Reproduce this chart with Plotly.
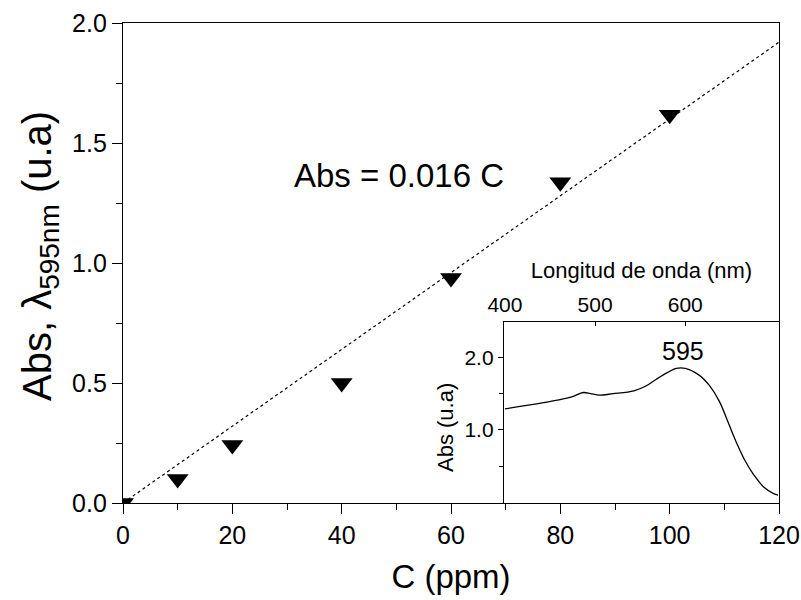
import plotly.graph_objects as go

# Main calibration data
conc_ppm = [0, 10, 20, 40, 60, 80, 100]
abs_595 = [0.0, 0.10, 0.242, 0.50, 0.937, 1.336, 1.618]

# Linear fit Abs = 0.016 C
fit_slope = 0.016
fit_c = [0, 120]

# Inset spectrum
wavelength_nm = [400, 415, 435, 460, 475, 487, 495, 505, 520, 543, 557, 568, 580,
                 590, 600, 615, 627, 638, 648, 657, 667, 676, 687, 698, 703]
spectrum_abs = [1.29, 1.32, 1.36, 1.415, 1.46, 1.516, 1.50, 1.48, 1.50, 1.54, 1.61,
                1.70, 1.79, 1.85, 1.85, 1.76, 1.61, 1.39, 1.09, 0.82, 0.56, 0.38,
                0.21, 0.12, 0.10]

FONT = "Liberation Sans, Arial, sans-serif"

# plot area in pixels
L, R, T, B = 123, 22, 23, 97
PW, PH = 801 - L - R, 600 - T - B


def px_x(px):
    return (px - L) / PW


def px_y(py):
    return (600 - B - py) / PH


fig = go.Figure()

fig.add_trace(go.Scatter(
    x=fit_c, y=[fit_slope * c for c in fit_c], mode="lines",
    line=dict(color="black", width=1.2, dash="3px,3px"),
    xaxis="x", yaxis="y", showlegend=False, hoverinfo="skip"))

fig.add_trace(go.Scatter(
    x=conc_ppm, y=abs_595, mode="markers",
    marker=dict(symbol="triangle-down", size=19, color="black"),
    xaxis="x", yaxis="y", showlegend=False))

fig.add_trace(go.Scatter(
    x=wavelength_nm, y=spectrum_abs, mode="lines", line_shape="spline",
    line=dict(color="black", width=1.3),
    xaxis="x2", yaxis="y2", showlegend=False))

inset_left = px_x(504)
inset_top = px_y(322)

fig.update_layout(
    width=801, height=600,
    margin=dict(l=L, r=R, t=T, b=B, autoexpand=False),
    paper_bgcolor="white", plot_bgcolor="white",
    font=dict(family=FONT, color="black"),
    xaxis=dict(
        range=[0, 120], domain=[0, 1], anchor="y", automargin=False,
        tickvals=[0, 20, 40, 60, 80, 100, 120],
        ticks="outside", ticklen=10, tickwidth=1.2, tickcolor="black",
        minor=dict(ticks="outside", ticklen=6, dtick=10, tickwidth=1.2, tickcolor="black"),
        showline=True, linecolor="black", linewidth=1.3, mirror=True,
        showgrid=False, zeroline=False,
        tickfont=dict(size=25, family=FONT),
        title=dict(text="C (ppm)", font=dict(size=33, family=FONT), standoff=16),
    ),
    yaxis=dict(
        range=[0, 2.0], domain=[0, 1], anchor="x", automargin=False,
        tickvals=[0, 0.5, 1.0, 1.5, 2.0], tickformat=".1f",
        ticks="outside", ticklen=10, tickwidth=1.2, tickcolor="black",
        minor=dict(ticks="outside", ticklen=6, dtick=0.25, tickwidth=1.2, tickcolor="black"),
        showline=True, linecolor="black", linewidth=1.3, mirror=True,
        showgrid=False, zeroline=False,
        tickfont=dict(size=25, family=FONT),
    ),
    xaxis2=dict(
        range=[399, 704], domain=[inset_left, 1], anchor="y2", side="top", automargin=False,
        tickvals=[400, 500, 600],
        ticks="inside", ticklen=4, tickwidth=1, tickcolor="black",
        showline=True, linecolor="black", linewidth=1.3,
        showgrid=False, zeroline=False,
        tickfont=dict(size=21, family=FONT),
        title=dict(text="Longitud de onda (nm)", font=dict(size=22, family=FONT), standoff=8),
    ),
    yaxis2=dict(
        range=[-0.01, 2.49], domain=[0, inset_top], anchor="x2", automargin=False,
        tickvals=[1.0, 2.0], tickformat=".1f",
        ticks="outside", ticklen=5, tickwidth=1, tickcolor="black",
        minor=dict(ticks="outside", ticklen=4, tickvals=[0.5, 1.5], tickcolor="black"),
        showline=True, linecolor="black", linewidth=1.3,
        showgrid=False, zeroline=False,
        tickfont=dict(size=21, family=FONT),
    ),
    annotations=[
        dict(text="Abs, λ<sub>595nm</sub> (u.a)", x=px_x(40), y=px_y(256),
             xref="paper", yref="paper", textangle=-90, showarrow=False,
             xanchor="center", yanchor="middle", font=dict(size=40, family=FONT)),
        dict(text="Abs (u.a)", x=px_x(445), y=px_y(428),
             xref="paper", yref="paper", textangle=-90, showarrow=False,
             xanchor="center", yanchor="middle", font=dict(size=22, family=FONT)),
        dict(text="Abs = 0.016 C", x=50.4, y=1.365, xref="x", yref="y",
             showarrow=False, font=dict(size=33, family=FONT)),
        dict(text="595", x=598, y=2.09, xref="x2", yref="y2",
             showarrow=False, font=dict(size=25, family=FONT)),
    ],
)

fig.write_html("out.html")
